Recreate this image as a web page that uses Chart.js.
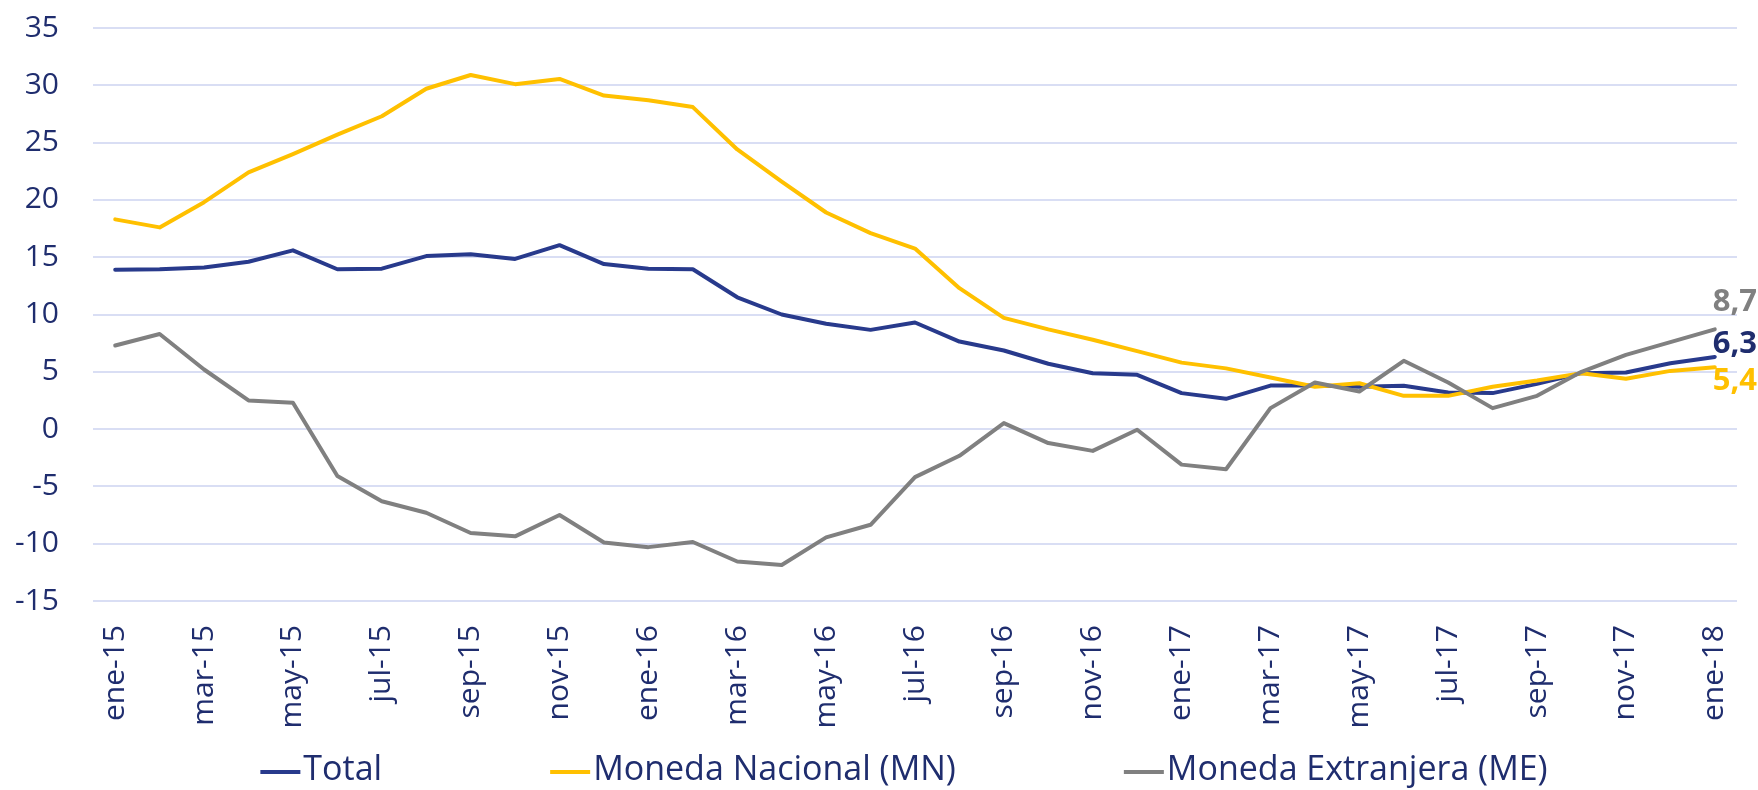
<!DOCTYPE html>
<html>
<head>
<meta charset="utf-8">
<script src="https://cdn.jsdelivr.net/npm/chart.js@4.4.1/dist/chart.umd.min.js"></script>
<style>
  html, body { margin: 0; padding: 0; background: #fff; }
  #wrap { width: 1758px; height: 790px; }
</style>
</head>
<body>
<div id="wrap"><canvas id="grafico" width="1758" height="790"></canvas></div>
<script>
// Meses (ene-15 .. ene-18)
const meses = [
  'ene-15','feb-15','mar-15','abr-15','may-15','jun-15','jul-15','ago-15','sep-15','oct-15','nov-15','dic-15',
  'ene-16','feb-16','mar-16','abr-16','may-16','jun-16','jul-16','ago-16','sep-16','oct-16','nov-16','dic-16',
  'ene-17','feb-17','mar-17','abr-17','may-17','jun-17','jul-17','ago-17','sep-17','oct-17','nov-17','dic-17',
  'ene-18'
];
const total = [
  13.9, 13.95, 14.1, 14.6, 15.6, 13.95, 14.0, 15.1, 15.25, 14.85, 16.05, 14.4,
  14.0, 13.95, 11.5, 10.0, 9.2, 8.66, 9.3, 7.64, 6.86, 5.7, 4.88, 4.74,
  3.14, 2.64, 3.8, 3.8, 3.7, 3.78, 3.2, 3.14, 3.95, 4.88, 4.94, 5.75,
  6.3
];
const monedaNacional = [
  18.3, 17.6, 19.8, 22.4, 24.0, 25.7, 27.3, 29.7, 30.9, 30.1, 30.55, 29.1,
  28.7, 28.1, 24.4, 21.6, 18.9, 17.1, 15.75, 12.3, 9.7, 8.7, 7.8, 6.8,
  5.8, 5.3, 4.5, 3.7, 4.0, 2.9, 2.9, 3.7, 4.24, 4.88, 4.39, 5.08,
  5.4
];
const monedaExtranjera = [
  7.3, 8.3, 5.2, 2.5, 2.3, -4.1, -6.3, -7.3, -9.07, -9.36, -7.5, -9.9,
  -10.3, -9.85, -11.55, -11.86, -9.45, -8.35, -4.19, -2.33, 0.52, -1.22, -1.9, -0.06,
  -3.1, -3.5, 1.83, 4.07, 3.28, 5.96, 4.07, 1.83, 2.9, 5.0, 6.48, 7.59,
  8.7
];
const etiquetasFinales = ['6,3', '5,4', '8,7'];

const azul = '#283A8C';
const azulTexto = '#1F2D6E';
const amarillo = '#FFC000';
const gris = '#808080';
const fuente = '"Open Sans"';

// desplazamiento vertical de la etiqueta final de cada serie
const despEtiqueta = [-13, 14, -27];

const pluginEtiquetas = {
  id: 'etiquetasFinales',
  afterDatasetsDraw(chart) {
    const ctx = chart.ctx;
    ctx.save();
    ctx.font = 'bold 31px ' + fuente;
    ctx.textAlign = 'left';
    ctx.textBaseline = 'middle';
    chart.data.datasets.forEach((ds, i) => {
      const meta = chart.getDatasetMeta(i);
      const pt = meta.data[meta.data.length - 1];
      ctx.fillStyle = ds.colorEtiqueta;
      ctx.fillText(etiquetasFinales[i], pt.x - 2, pt.y + despEtiqueta[i]);
    });
    ctx.restore();
  }
};

const pluginLeyenda = {
  id: 'leyenda',
  afterDraw(chart) {
    const ctx = chart.ctx;
    ctx.save();
    ctx.font = '34px ' + fuente;
    ctx.textBaseline = 'middle';
    const ds = chart.data.datasets;
    const largo = 40, sep = 3, hueco = 168;
    const anchos = ds.map(d => largo + sep + ctx.measureText(d.label).width);
    const totalAncho = anchos.reduce((a, b) => a + b, 0) + hueco * (ds.length - 1);
    let x = 904 - totalAncho / 2;
    const y = 770;
    ds.forEach((d, i) => {
      ctx.strokeStyle = d.borderColor;
      ctx.lineWidth = 4;
      ctx.beginPath();
      ctx.moveTo(x, y + 2);
      ctx.lineTo(x + largo, y + 2);
      ctx.stroke();
      ctx.fillStyle = azulTexto;
      ctx.fillText(d.label, x + largo + sep, y);
      x += anchos[i] + hueco;
    });
    ctx.restore();
  }
};

new Chart(document.getElementById('grafico').getContext('2d'), {
  type: 'line',
  data: {
    labels: meses,
    datasets: [
      { label: 'Total', data: total, borderColor: azul, colorEtiqueta: azulTexto, order: 2 },
      { label: 'Moneda Nacional (MN)', data: monedaNacional, borderColor: amarillo, colorEtiqueta: amarillo, order: 1 },
      { label: 'Moneda Extranjera (ME)', data: monedaExtranjera, borderColor: gris, colorEtiqueta: gris, order: 0 }
    ]
  },
  options: {
    responsive: false,
    animation: false,
    devicePixelRatio: 1,
    layout: { padding: { top: 28, right: 21, bottom: 59, left: 0 } },
    elements: {
      line: { borderWidth: 4, tension: 0, borderJoinStyle: 'round', borderCapStyle: 'round', fill: false },
      point: { radius: 0, hoverRadius: 0 }
    },
    plugins: {
      legend: { display: false },
      tooltip: { enabled: false }
    },
    scales: {
      x: {
        offset: true,
        grid: { display: false, drawTicks: false },
        border: { display: false },
        afterFit(axis) {
          axis.height = 130;
          axis.paddingLeft = 0;
          axis.paddingRight = 0;
        },
        ticks: {
          autoSkip: false,
          minRotation: 90,
          maxRotation: 90,
          padding: 24,
          color: azulTexto,
          font: { family: fuente, size: 30 },
          callback(val, idx) { return idx % 2 === 0 ? meses[idx] : ''; }
        }
      },
      y: {
        min: -15,
        max: 35,
        grid: { color: '#D9DEF4', lineWidth: 2, drawTicks: false },
        border: { display: false },
        afterFit(axis) {
          axis.width = 93;
          axis.paddingTop = 0;
          axis.paddingBottom = 0;
        },
        ticks: {
          stepSize: 5,
          padding: 34,
          color: azulTexto,
          font: { family: fuente, size: 30 }
        }
      }
    }
  },
  plugins: [pluginEtiquetas, pluginLeyenda]
});
</script>
</body>
</html>
